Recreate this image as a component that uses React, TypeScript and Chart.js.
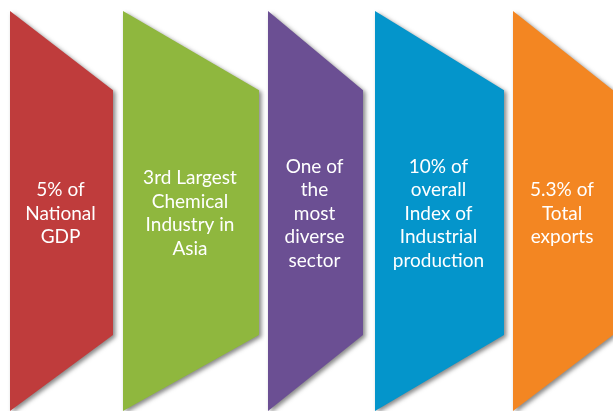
import React, { useEffect, useRef } from "react";
import { Chart, registerables } from "chart.js";

Chart.register(...registerables);

const categories = ["Facts"];
const segmentLabels: string[][] = [
  ["5% of", "National", "GDP"],
  ["3rd Largest", "Chemical", "Industry in", "Asia"],
  ["One of", "the", "most", "diverse", "sector"],
  ["10% of", "overall", "Index of", "Industrial", "production"],
  ["5.3% of", "Total", "exports"],
];
const segmentStarts = [10, 123, 268, 375, 513];
const segmentEnds = [113, 259, 363, 504, 613];
const segmentColors = ["#BF3C3C", "#8FB73E", "#6B4F93", "#0495CB", "#F38622"];

const TOP_TAPER = 0.198;
const BOTTOM_TAPER = 0.19;
const LINE_HEIGHT = 23.5;

const shapePlugin = {
  id: "pentagonShapes",
  beforeDatasetDraw(chart: any, args: any) {
    const { ctx } = chart;
    const meta = args.meta;
    const idx = args.index;
    meta.data.forEach((el: any) => {
      const p = el.getProps(["x", "y", "base", "height"], true);
      const left = Math.min(p.x, p.base);
      const right = Math.max(p.x, p.base);
      const top = p.y - p.height / 2;
      const bottom = p.y + p.height / 2;
      const h = bottom - top;
      ctx.save();
      ctx.shadowColor = "rgba(40,40,40,0.55)";
      ctx.shadowBlur = 4;
      ctx.shadowOffsetX = 2.5;
      ctx.shadowOffsetY = 2;
      ctx.fillStyle = segmentColors[idx];
      ctx.beginPath();
      ctx.moveTo(left, top);
      ctx.lineTo(right, top + h * TOP_TAPER);
      ctx.lineTo(right, bottom - h * BOTTOM_TAPER);
      ctx.lineTo(left, bottom);
      ctx.closePath();
      ctx.fill();
      ctx.restore();

      const lines = segmentLabels[idx];
      const cx = (left + right) / 2 - 1;
      const midBaseline = 219.5;
      ctx.save();
      ctx.fillStyle = "#ffffff";
      ctx.font = "19px Lato";
      ctx.textAlign = "center";
      ctx.textBaseline = "alphabetic";
      lines.forEach((line, i) => {
        const yy = midBaseline + (i - (lines.length - 1) / 2) * LINE_HEIGHT;
        ctx.fillText(line, cx, yy);
      });
      ctx.restore();
    });
    return false;
  },
};

export default function App() {
  const ref = useRef<HTMLCanvasElement | null>(null);
  useEffect(() => {
    if (!ref.current) return;
    const chart = new Chart(ref.current, {
      type: "bar",
      data: {
        labels: categories,
        datasets: segmentStarts.map((s, i) => ({
          label: segmentLabels[i].join(" "),
          data: [[s, segmentEnds[i]]] as any,
          backgroundColor: segmentColors[i],
          grouped: false,
          categoryPercentage: 1,
          barPercentage: 1,
        })),
      },
      options: {
        indexAxis: "y",
        responsive: false,
        animation: false,
        maintainAspectRatio: false,
        layout: { padding: { top: 11, bottom: 0, left: 0, right: 0 } },
        scales: {
          x: { type: "linear", min: 0, max: 613, display: false },
          y: { display: false },
        },
        plugins: {
          legend: { display: false },
          tooltip: { enabled: false },
        },
      },
      plugins: [shapePlugin],
    });
    return () => chart.destroy();
  }, []);
  return (
    <div style={{ position: "fixed", left: 0, top: 0, width: 613, height: 411, background: "#fff" }}>
      <canvas ref={ref} width={613} height={411} style={{ width: 613, height: 411 }} />
    </div>
  );
}
